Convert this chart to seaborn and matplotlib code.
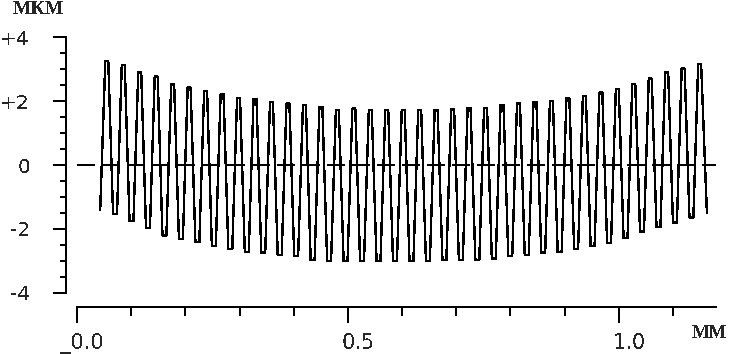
import numpy as np
import pandas as pd
import matplotlib
matplotlib.use("Agg")
import matplotlib.pyplot as plt
import matplotlib.transforms as mtransforms
from matplotlib.ticker import FixedLocator, MultipleLocator
import seaborn as sns

# profilogram readout: tops and bottoms of each groove (mkm)
peaks = [3.25, 3.12, 2.89, 2.76, 2.52, 2.42, 2.31, 2.21, 2.10, 2.07,
         1.97, 1.92, 1.88, 1.81, 1.72, 1.76, 1.72, 1.72, 1.72, 1.72, 1.72,
         1.74, 1.79, 1.79, 1.87, 1.92, 1.97, 2.00, 2.08, 2.16, 2.26, 2.37,
         2.54, 2.70, 2.89, 3.01, 3.15]
valleys = [-1.54, -1.75, -1.97, -2.20, -2.32, -2.41, -2.53, -2.63, -2.72,
           -2.74, -2.82, -2.84, -2.97, -3.00, -3.00, -3.00, -3.00, -3.00,
           -3.00, -3.00, -2.97, -2.97, -2.97, -2.92, -2.84, -2.82, -2.74,
           -2.72, -2.63, -2.53, -2.43, -2.29, -2.08, -1.94, -1.80, -1.64]
start_val = -1.39
end_val = -1.49
first_peak = 0.055   # mm
pitch = 0.0304       # mm, groove spacing
x_end = 1.1796       # mm, end of the x axis

yticks = [-4, -2, 0, 2, 4]
ytick_labels = ["-4", "-2", "0", "+2", "+4"]
xticks = [0.0, 0.5, 1.0]
xtick_labels = ["_0.0", "0.5", "1.0"]

# build the trace: flat top, steep flank, flat bottom
top_w = 0.09 * pitch
bot_w = 0.12 * pitch
xs, ys = [first_peak - 0.4 * pitch], [start_val]
for i, pk in enumerate(peaks):
    xc = first_peak + i * pitch
    xs += [xc - top_w, xc + top_w]
    ys += [pk, pk]
    if i < len(valleys):
        xv = xc + pitch / 2
        xs += [xv - bot_w, xv + bot_w]
        ys += [valleys[i], valleys[i]]
xs.append(first_peak + (len(peaks) - 1) * pitch + 0.44 * pitch)
ys.append(end_val)
trace = pd.DataFrame({"mm": xs, "mkm": ys})

sns.set_style("white")
plt.rcParams["font.family"] = ["DejaVu Sans"]
plt.rcParams["text.antialiased"] = False

W, H = 729, 354
fig = plt.figure(figsize=(W / 100, H / 100), dpi=100)
ax = fig.add_axes([66 / W, 47 / H, 650 / W, 270 / H])

sns.lineplot(data=trace, x="mm", y="mkm", sort=False, estimator=None,
             color="black", lw=1.0, antialiased=False, ax=ax)
ax.hlines(0, 0, x_end, colors="black", lw=1.44,
          linestyles=[(0, (9.0, 3.5))], antialiased=False)

ax.set_xlim(-0.0203, x_end)
ax.set_ylim(-4.4375, 4)
ax.set_xlabel("")
ax.set_ylabel("")

for s in ["top", "right"]:
    ax.spines[s].set_visible(False)
for s in ["left", "bottom"]:
    ax.spines[s].set_linewidth(1.44)
    ax.spines[s].set_color("black")
    ax.spines[s].set_antialiased(False)
ax.spines["left"].set_bounds(-4, 4)
ax.spines["bottom"].set_bounds(0, x_end)

ax.yaxis.set_major_locator(FixedLocator(yticks))
ax.set_yticklabels(ytick_labels)
ax.yaxis.set_minor_locator(MultipleLocator(0.5))
ax.xaxis.set_major_locator(FixedLocator(xticks))
ax.set_xticklabels(xtick_labels)
ax.xaxis.set_minor_locator(MultipleLocator(0.1))

ax.tick_params(axis="y", which="major", direction="out", length=9.4, width=1.44,
               pad=16.5, labelsize=14.5, left=True, color="black")
ax.tick_params(axis="y", which="minor", direction="out", length=4.3, width=1.44,
               left=True, color="black")
ax.tick_params(axis="x", which="major", direction="out", length=11.5, width=1.44,
               pad=7, labelsize=15, bottom=True, color="black")
ax.tick_params(axis="x", which="minor", direction="out", length=6.5, width=1.44,
               bottom=True, color="black")

shift = mtransforms.ScaledTranslation(27 / 100, 0, fig.dpi_scale_trans)
for lbl in ax.get_xticklabels():
    lbl.set_ha("right")
    lbl.set_transform(lbl.get_transform() + shift)

fig.text(13 / W, 1 - 13.5 / H, "МКМ", family="Liberation Serif", weight="bold",
         fontsize=14, va="baseline", ha="left")
fig.text(692 / W, 1 - 338.5 / H, "ММ", family="Liberation Serif", weight="bold",
         fontsize=13.5, va="baseline", ha="left")

fig.savefig("out.png", dpi=100, facecolor="white")
